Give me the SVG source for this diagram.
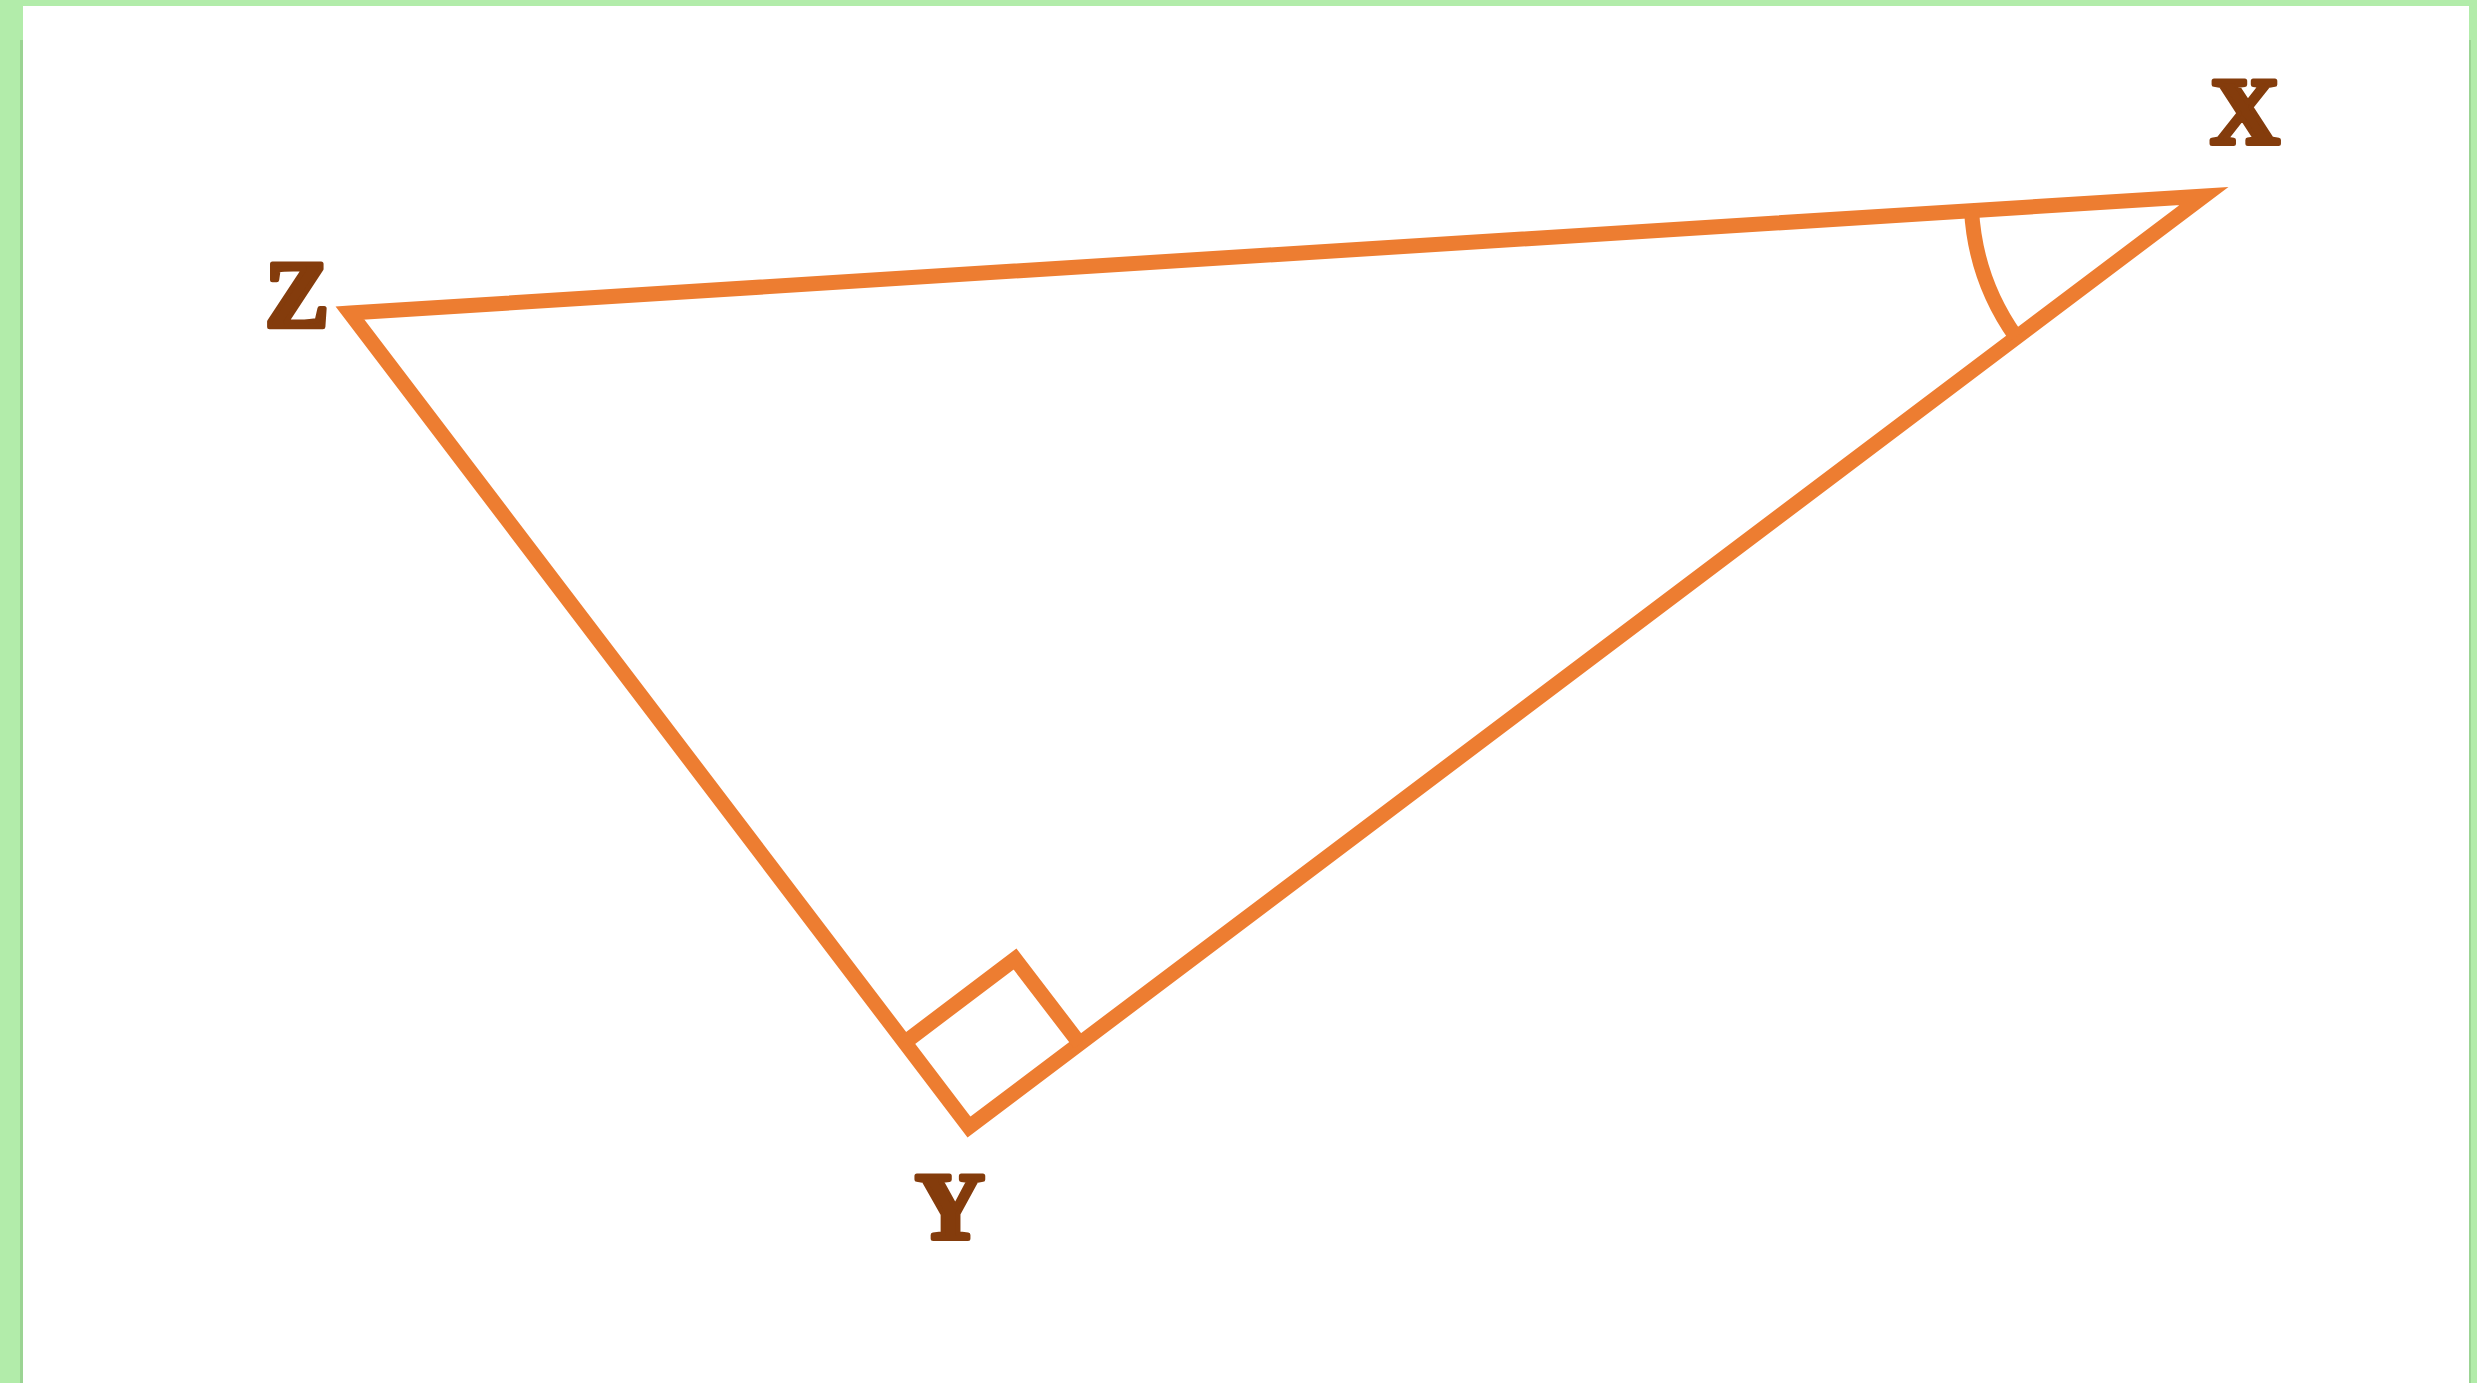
<svg xmlns="http://www.w3.org/2000/svg" width="2477" height="1383" viewBox="0 0 2477 1383">
<style>
.edge{fill:none;stroke:#ED7D31;stroke-width:15;stroke-linejoin:miter;stroke-miterlimit:10}
.lbl{font-family:"Liberation Serif","Times New Roman",serif;font-weight:700;font-size:96px;fill:#843C0C;stroke:#843C0C;stroke-width:5;stroke-linejoin:round;text-anchor:middle}
</style>
<rect x="0" y="0" width="2477" height="1383" fill="#B2ECAA"/>
<rect x="20" y="40" width="4" height="1343" fill="#9BD493"/>
<rect x="2468" y="40" width="3" height="1343" fill="#9BD493"/>
<rect x="23" y="6" width="2446" height="1377" fill="#FFFFFF"/>
<g id="connectors">
<polygon class="edge" points="350,313 2204,196 969,1127"/>
<polyline class="edge" points="904,1043 1015,959 1080,1044"/>
<path class="edge" d="M1971.5,210 A243,243 0 0 0 2016,337"/>
</g>
<g id="Z"><text class="lbl" x="297" y="327">Z</text></g>
<g id="X"><text class="lbl" x="2245" y="144">X</text></g>
<g id="Y"><text class="lbl" x="950" y="1239">Y</text></g>
</svg>
